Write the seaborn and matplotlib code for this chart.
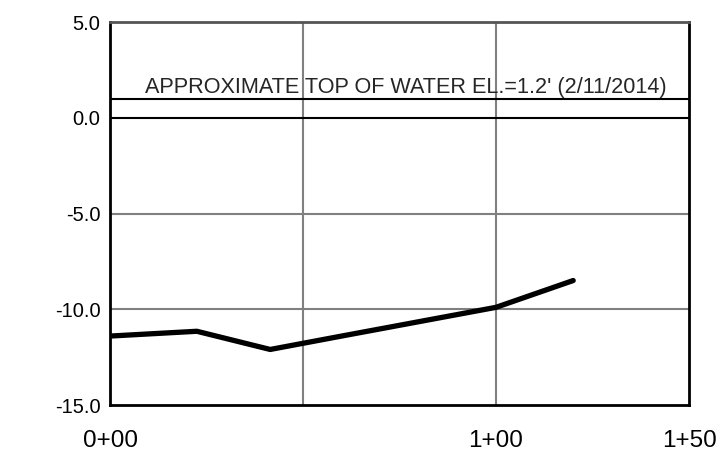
import pandas as pd
import seaborn as sns
import matplotlib.pyplot as plt

# profile data (station in ft, elevation in ft)
stations = [0, 22.5, 41.5, 60, 80, 100, 120]
elevations = [-11.4, -11.15, -12.1, -11.4, -10.65, -9.9, -8.5]

y_ticks = [5.0, 0.0, -5.0, -10.0, -15.0]
x_ticks = [0, 100, 150]
x_tick_labels = ["0+00", "1+00", "1+50"]
water_el_drawn = 1.0
water_label = "APPROXIMATE TOP OF WATER EL.=1.2' (2/11/2014)"

df = pd.DataFrame({"station": stations, "elev": elevations})

sns.set_theme(style="white")
plt.rcParams['font.family'] = ['Liberation Sans', 'DejaVu Sans']

fig = plt.figure(figsize=(7.26, 4.63), dpi=100)
ax = fig.add_axes([110 / 726, 1 - 405 / 463, (689 - 110) / 726, (405 - 22) / 463])

# grid lines
for gx in [50, 100]:
    ax.axvline(gx, color='#808080', lw=1.5, zorder=1)
for gy in [-5, -10]:
    ax.axhline(gy, color='#808080', lw=1.5, zorder=1)

# water surface reference lines
ax.axhline(water_el_drawn, color='black', lw=1.5, zorder=2)
ax.axhline(0, color='black', lw=1.5, zorder=2)
ax.text(9, water_el_drawn + 0.3, water_label, fontsize=15.6, ha='left', va='baseline', zorder=3)

sns.lineplot(data=df, x='station', y='elev', color='black', lw=3.8, ax=ax, zorder=4,
             solid_capstyle='round', solid_joinstyle='round')

ax.set_xlim(0, 150)
ax.set_ylim(-15, 5)
ax.set_xticks(x_ticks)
ax.set_xticklabels(x_tick_labels, fontsize=17.5)
ax.set_yticks(y_ticks)
ax.set_yticklabels([f"{v:.1f}" for v in y_ticks], fontsize=14.5)
ax.tick_params(axis='both', length=0, colors='black')
ax.tick_params(axis='x', pad=18)
ax.tick_params(axis='y', pad=7)
ax.set_xlabel('')
ax.set_ylabel('')

for side in ['left', 'right', 'bottom']:
    ax.spines[side].set_color('black')
    ax.spines[side].set_linewidth(2)
ax.spines['top'].set_color('#555555')
ax.spines['top'].set_linewidth(2)

fig.savefig('out.png', dpi=100)
plt.close(fig)
